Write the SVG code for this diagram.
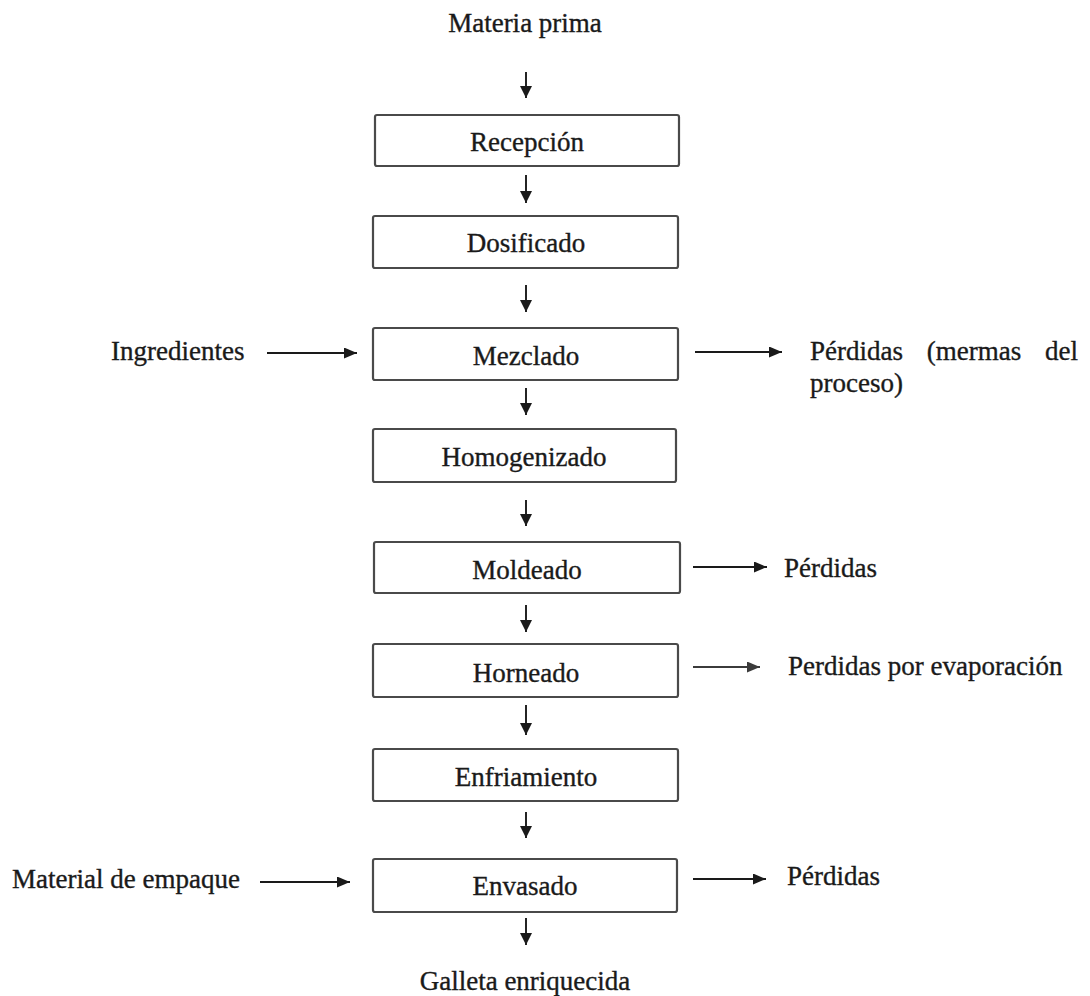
<svg xmlns="http://www.w3.org/2000/svg" width="1090" height="996" viewBox="0 0 1090 996">
<style>
.t{font-family:'Liberation Serif','DejaVu Serif',serif;font-size:27px;fill:#1a1a1a;stroke:#1a1a1a;stroke-width:0.35}
.c{text-anchor:middle}
.box{fill:#fff;stroke:#4a4a4a;stroke-width:2.2}
.ln{stroke:#1a1a1a;stroke-width:1.9;fill:none}
</style>
<defs>
<marker id="ah" viewBox="0 0 13 11" refX="13" refY="5.5" markerWidth="13" markerHeight="11" markerUnits="userSpaceOnUse" orient="auto">
<path d="M0,0 L13,5.5 L0,11 z" fill="#1a1a1a"/>
</marker>
<marker id="ahv" viewBox="0 0 12 12" refX="12" refY="6" markerWidth="12" markerHeight="12" markerUnits="userSpaceOnUse" orient="auto">
<path d="M0,0 L12,6 L0,12 z" fill="#1a1a1a"/>
</marker>
</defs>
<rect width="1090" height="996" fill="#fff"/>
<g id="connectors">
<line class="ln" x1="526" y1="72" x2="526" y2="98" marker-end="url(#ahv)"/>
<line class="ln" x1="526" y1="175" x2="526" y2="203" marker-end="url(#ahv)"/>
<line class="ln" x1="526" y1="285" x2="526" y2="312" marker-end="url(#ahv)"/>
<line class="ln" x1="526" y1="388" x2="526" y2="415" marker-end="url(#ahv)"/>
<line class="ln" x1="526" y1="500" x2="526" y2="526" marker-end="url(#ahv)"/>
<line class="ln" x1="526" y1="605" x2="526" y2="632" marker-end="url(#ahv)"/>
<line class="ln" x1="526" y1="705" x2="526" y2="735" marker-end="url(#ahv)"/>
<line class="ln" x1="526" y1="812" x2="526" y2="838" marker-end="url(#ahv)"/>
<line class="ln" x1="526" y1="918" x2="526" y2="945" marker-end="url(#ahv)"/>
<line class="ln" x1="267" y1="353" x2="357" y2="353" marker-end="url(#ah)"/>
<line class="ln" x1="695" y1="352" x2="782" y2="352" marker-end="url(#ah)"/>
<line class="ln" x1="693" y1="567" x2="767" y2="567" marker-end="url(#ah)"/>
<line class="ln" x1="693" y1="667" x2="760" y2="667" marker-end="url(#ah)" opacity="0.85"/>
<line class="ln" x1="260" y1="882" x2="350" y2="882" marker-end="url(#ah)"/>
<line class="ln" x1="693" y1="879" x2="766" y2="879" marker-end="url(#ah)"/>
</g>
<g id="materia-prima"><text class="t c" x="525" y="32">Materia prima</text></g>
<g id="recepcion"><rect class="box" x="375" y="115" width="304" height="51" rx="2"/><text class="t c" x="527" y="151">Recepción</text></g>
<g id="dosificado"><rect class="box" x="373" y="216" width="305" height="52" rx="2"/><text class="t c" x="526" y="252">Dosificado</text></g>
<g id="mezclado"><rect class="box" x="373" y="328" width="305" height="52" rx="2"/><text class="t c" x="526" y="365">Mezclado</text></g>
<g id="homogenizado"><rect class="box" x="373" y="429" width="303" height="53" rx="2"/><text class="t c" x="524" y="466">Homogenizado</text></g>
<g id="moldeado"><rect class="box" x="374" y="542" width="306" height="51" rx="2"/><text class="t c" x="527" y="579">Moldeado</text></g>
<g id="horneado"><rect class="box" x="373" y="644" width="305" height="53" rx="2"/><text class="t c" x="526" y="682">Horneado</text></g>
<g id="enfriamiento"><rect class="box" x="373" y="749" width="305" height="52" rx="2"/><text class="t c" x="526" y="786">Enfriamiento</text></g>
<g id="envasado"><rect class="box" x="373" y="859" width="304" height="53" rx="2"/><text class="t c" x="525" y="895">Envasado</text></g>
<g id="galleta"><text class="t c" x="525" y="990">Galleta enriquecida</text></g>
<g id="ingredientes"><text class="t" x="111" y="360">Ingredientes</text></g>
<g id="material-empaque"><text class="t" x="12" y="888">Material de empaque</text></g>
<g id="perdidas-mermas"><text class="t" x="810" y="360" word-spacing="17">Pérdidas (mermas del</text><text class="t" x="810" y="392">proceso)</text></g>
<g id="perdidas-moldeado"><text class="t" x="784" y="577">Pérdidas</text></g>
<g id="perdidas-evaporacion"><text class="t" x="788" y="675">Perdidas por evaporación</text></g>
<g id="perdidas-envasado"><text class="t" x="787" y="885">Pérdidas</text></g>
</svg>
